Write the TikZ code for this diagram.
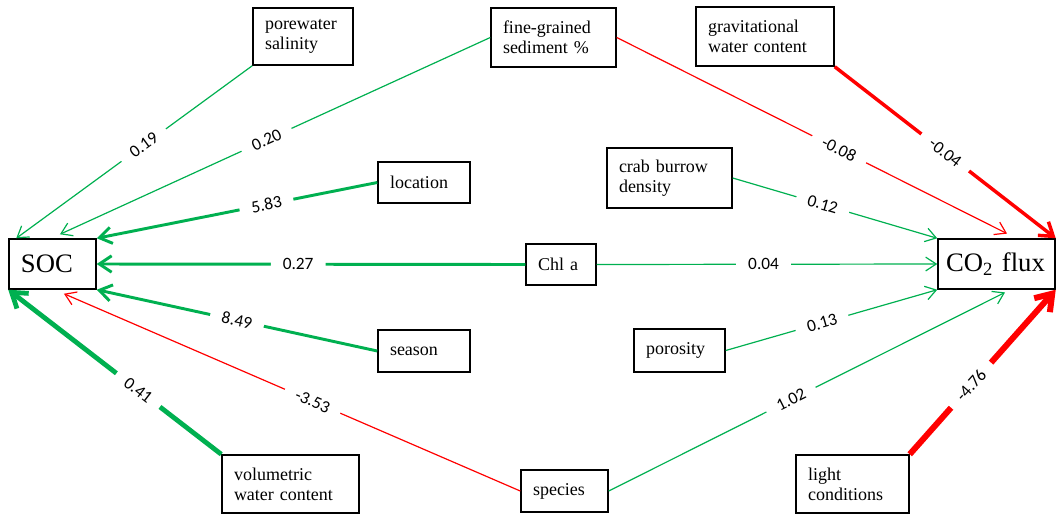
\documentclass[tikz,border=0pt]{standalone}
\usepackage{fontspec}
\setmainfont{Liberation Serif}
\newfontfamily\labfont{Carlito}
\usetikzlibrary{arrows.meta}
\definecolor{pgreen}{RGB}{0,176,80}
\definecolor{pred}{RGB}{255,0,0}
\begin{document}
\begin{tikzpicture}[x=0.75pt,y=-0.75pt,
  box/.style={draw, line width=1.1pt, align=left, inner xsep=9pt, inner ysep=0pt,
    font=\fontsize{13.5}{15}\selectfont},
  bigbox/.style={draw, line width=1.1pt, align=left, inner xsep=9pt, inner ysep=0pt,
    font=\fontsize{20}{22}\selectfont},
  tip/.style={-{Straight Barb[length=7pt 1, width=9pt 1.5]}},
  gthin/.style={draw=pgreen, line width=0.9pt, tip},
  gthick/.style={draw=pgreen, line width=2.2pt, tip},
  gvthick/.style={draw=pgreen, line width=3.6pt, tip},
  rthin/.style={draw=pred, line width=0.9pt, tip},
  rthick/.style={draw=pred, line width=2.6pt, tip},
  rvthick/.style={draw=pred, line width=4.5pt, tip},
  lab/.style={fill=white, text=black, sloped, inner xsep=9pt, inner ysep=1pt,
    font=\labfont\fontsize{13}{13}\selectfont}
]
\useasboundingbox (0,0) rectangle (1057,515);

% boxes
\node[bigbox, text width=47.25pt, minimum height=37.5pt] (soc) at (52.5,264) {SOC};
\node[bigbox, inner xsep=6pt, text width=75.75pt, minimum height=37.5pt] (co2) at (996.5,264) {CO\textsubscript{2} flux};
\node[box, text width=57pt, minimum height=42.75pt] (pore) at (303,36.5) {porewater\\salinity};
\node[box, text width=75.75pt, minimum height=44.25pt] (fine) at (553.5,37.5) {fine-grained\\sediment \%};
\node[box, text width=85.5pt, minimum height=44.25pt] (grav) at (765,36.5) {gravitational\\water content};
\node[box, text width=75.75pt, minimum height=45pt] (crab) at (669.5,178) {crab burrow\\density};
\node[box, text width=51pt, minimum height=30.75pt] (loc) at (424,182.5) {location};
\node[box, text width=34.5pt, minimum height=30.75pt] (chl) at (561,264.5) {Chl a};
\node[box, text width=51pt, minimum height=31.5pt] (season) at (424,351) {season};
\node[box, text width=50.25pt, minimum height=32.25pt] (poro) at (679.5,350.5) {porosity};
\node[box, text width=84.75pt, minimum height=43.5pt] (vol) at (290.5,484) {volumetric\\water content};
\node[box, text width=47.25pt, minimum height=31.5pt] (species) at (564.5,491) {species};
\node[box, text width=66.75pt, minimum height=43.5pt] (light) at (852.5,484) {light\\conditions};

% edges to SOC
\draw[gthin] (pore.south west) -- node[lab,pos=0.46]{0.19} ([xshift=6pt]soc.north west);
\draw[gthin] (fine.west) -- node[lab,pos=0.52]{0.20} ([xshift=5.6pt,yshift=3pt]soc.north);
\draw[gthick] (loc.west) -- node[lab,pos=0.395]{5.83} (soc.north east);
\draw[gthick] (chl.west) -- node[lab,pos=0.53]{0.27} (soc.east);
\draw[gthick] (season.west) -- node[lab,pos=0.5]{8.49} (soc.south east);
\draw[gvthick] (vol.north west) -- node[lab,pos=0.39]{0.41} (soc.south west);
\draw[rthin] (species.west) -- node[lab,pos=0.455]{-3.53} ([xshift=8.6pt,yshift=-3pt]soc.south);

% edges to CO2 flux
\draw[rthin] (fine.east) -- node[lab,pos=0.57]{-0.08} ([xshift=7.9pt,yshift=3.5pt]co2.north);
\draw[rthick] (grav.south east) -- node[lab,pos=0.5]{-0.04} (co2.north east);
\draw[gthin] (crab.east) -- node[lab,pos=0.44]{0.12} (co2.north west);
\draw[gthin] (chl.east) -- node[lab,pos=0.49]{0.04} (co2.west);
\draw[gthin] (poro.east) -- node[lab,pos=0.455]{0.13} (co2.south west);
\draw[gthin] (species.east) -- node[lab,pos=0.46]{1.02} ([xshift=6.4pt,yshift=-2pt]co2.south);
\draw[rvthick] (light.north east) -- node[lab,pos=0.42]{-4.76} (co2.south east);
\end{tikzpicture}
\end{document}
